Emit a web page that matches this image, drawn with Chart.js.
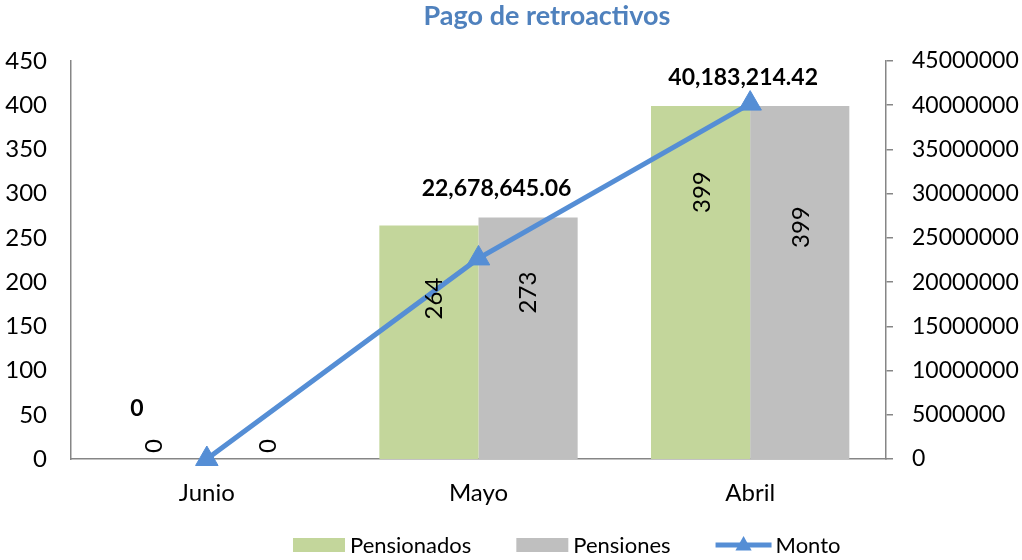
<!DOCTYPE html>
<html>
<head>
<meta charset="utf-8">
<script src="https://cdn.jsdelivr.net/npm/chart.js@4.4.1/dist/chart.umd.min.js"></script>
<style>
  html, body { margin: 0; padding: 0; background: #fff; }
  #wrap { width: 1022px; height: 560px; }
</style>
</head>
<body>
<div id="wrap"><canvas id="c" width="1022" height="560"></canvas></div>
<script>
// ---- data ----
const chartTitle = 'Pago de retroactivos';
const categories = ['Junio', 'Mayo', 'Abril'];
const pensionados = [0, 264, 399];
const pensiones = [0, 273, 399];
const monto = [0, 22678645.06, 40183214.42];
const seriesNames = ['Pensionados', 'Pensiones', 'Monto'];
const leftAxisMax = 450;
const leftAxisStep = 50;
const rightAxisMax = 45000000;
const rightAxisStep = 5000000;

// ---- styles ----
const FONT = 'Lato, "Open Sans", sans-serif';
const GREEN = '#C3D69B';
const GREY = '#BFBFBF';
const BLUE = '#558ED5';
const AXIS = '#868686';

function fmtMonto(v) {
  return v === 0 ? '0' : v.toLocaleString('en-US', { minimumFractionDigits: 2, maximumFractionDigits: 2 });
}

// label placement tweaks (pixel offsets relative to the mark)
const barLabelOffsets = [
  [[-3, -13], [5, 73], [2, 86]],     // Pensionados
  [[12, -13], [0, 75], [2, 121]]     // Pensiones
];
const lineLabelOffsets = [[-70, -50], [18, -70], [-7, -26]];

const decorPlugin = {
  id: 'decor',
  afterDatasetsDraw(chart) {
    const ctx = chart.ctx;
    ctx.save();
    ctx.fillStyle = '#000';
    // bar labels, rotated
    ctx.font = '24px ' + FONT;
    ctx.textAlign = 'center';
    ctx.textBaseline = 'middle';
    [0, 1].forEach(di => {
      const meta = chart.getDatasetMeta(di);
      meta.data.forEach((el, i) => {
        const off = barLabelOffsets[di][i];
        const v = chart.data.datasets[di].data[i];
        ctx.save();
        ctx.translate(el.x + off[0], el.y + off[1]);
        ctx.rotate(-Math.PI / 2);
        ctx.fillText(String(v), 0, 0);
        ctx.restore();
      });
    });
    // line labels
    ctx.font = 'bold 23px ' + FONT;
    const lmeta = chart.getDatasetMeta(2);
    lmeta.data.forEach((el, i) => {
      const off = lineLabelOffsets[i];
      ctx.fillText(fmtMonto(chart.data.datasets[2].data[i]), el.x + off[0], el.y + off[1]);
    });
    ctx.restore();
  },
  afterDraw(chart) {
    const ctx = chart.ctx;
    ctx.save();
    // title
    ctx.font = 'bold 27px ' + FONT;
    ctx.fillStyle = '#4F81BD';
    ctx.textAlign = 'center';
    ctx.textBaseline = 'middle';
    ctx.fillText(chartTitle, 547, 16);
    // legend
    ctx.font = '22px ' + FONT;
    ctx.textAlign = 'left';
    ctx.fillStyle = '#000';
    const cy = 545;
    let x = 293;
    const ds = chart.data.datasets;
    for (let i = 0; i < 3; i++) {
      if (i < 2) {
        ctx.fillStyle = ds[i].backgroundColor;
        ctx.fillRect(x, cy - 7, 52, 14);
        x += 57;
      } else {
        ctx.strokeStyle = ds[i].borderColor;
        ctx.lineWidth = 5;
        ctx.beginPath();
        ctx.moveTo(x, cy);
        ctx.lineTo(x + 56, cy);
        ctx.stroke();
        ctx.fillStyle = ds[i].borderColor;
        const tx = x + 28, r = 9;
        ctx.beginPath();
        ctx.moveTo(tx, cy - r);
        ctx.lineTo(tx + r * 0.9, cy + r * 0.6);
        ctx.lineTo(tx - r * 0.9, cy + r * 0.6);
        ctx.closePath();
        ctx.fill();
        x += 60;
      }
      ctx.fillStyle = '#000';
      ctx.fillText(ds[i].label, x, cy + 1);
      x += ctx.measureText(ds[i].label).width + 45;
    }
    ctx.restore();
  }
};

new Chart(document.getElementById('c'), {
  data: {
    labels: categories,
    datasets: [
      { type: 'bar', label: seriesNames[0], data: pensionados, backgroundColor: GREEN, yAxisID: 'y', order: 2,
        barPercentage: 1.0, categoryPercentage: 0.73 },
      { type: 'bar', label: seriesNames[1], data: pensiones, backgroundColor: GREY, yAxisID: 'y', order: 2,
        barPercentage: 1.0, categoryPercentage: 0.73 },
      { type: 'line', label: seriesNames[2], data: monto, borderColor: BLUE, backgroundColor: BLUE, yAxisID: 'y1', order: 1,
        borderWidth: 5, pointStyle: 'triangle', pointRadius: 13, pointHoverRadius: 13, pointBorderWidth: 1,
        pointBackgroundColor: BLUE, pointBorderColor: BLUE, tension: 0, clip: false }
    ]
  },
  options: {
    responsive: false,
    animation: false,
    layout: { padding: { top: 61, left: 0, right: 0, bottom: 0 } },
    plugins: { legend: { display: false }, title: { display: false }, tooltip: { enabled: false } },
    scales: {
      x: {
        type: 'category',
        offset: true,
        grid: { display: false, drawTicks: false },
        border: { display: true, color: AXIS, width: 1.5 },
        ticks: { font: { family: FONT, size: 24 }, color: '#000', padding: 20, maxRotation: 0 },
        afterFit(s) { s.height = 101; }
      },
      y: {
        position: 'left',
        min: 0, max: leftAxisMax,
        grid: { display: false, drawTicks: false },
        border: { display: true, color: AXIS, width: 1.5 },
        ticks: { stepSize: leftAxisStep, font: { family: FONT, size: 24 }, color: '#000', padding: 24 },
        afterFit(s) { s.width = 71; }
      },
      y1: {
        position: 'right',
        min: 0, max: rightAxisMax,
        grid: { display: true, drawOnChartArea: false, drawTicks: true, tickLength: 7, color: AXIS, lineWidth: 1.5 },
        border: { display: true, color: AXIS, width: 1.5 },
        ticks: { stepSize: rightAxisStep, font: { family: FONT, size: 23 }, color: '#000', padding: 19,
          callback: v => String(v) },
        afterFit(s) { s.width = 136; }
      }
    }
  },
  plugins: [decorPlugin]
});
</script>
</body>
</html>
